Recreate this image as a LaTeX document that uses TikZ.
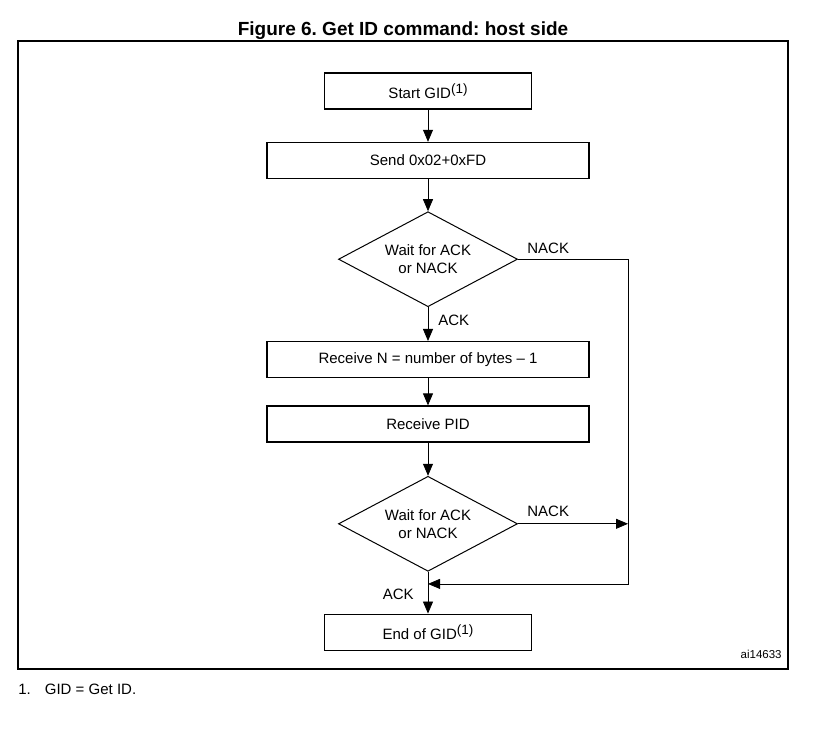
\documentclass[tikz,border=0pt]{standalone}
\usepackage{fontspec}
\setmainfont{Liberation Sans}
\frenchspacing
\usetikzlibrary{arrows.meta,shapes.geometric,positioning,calc}
\newcommand{\fnref}{\raisebox{5pt}{\fontsize{13.5}{14}\selectfont(1)}}
\tikzset{stepbox/.style={
    % The shape:
    rectangle,minimum width=322pt,minimum height=36pt,
    % The rest
    line width=1.4pt,draw=black,
    font=\fontsize{15}{18}\selectfont
  },
  termbox/.style={stepbox,minimum width=207pt},
  decide/.style={
    % The shape:
    diamond,aspect=1.875,minimum width=179pt,minimum height=95pt,inner sep=0pt,
    % The rest
    line width=1pt,draw=black,align=center,
    font=\fontsize{15}{18}\selectfont
  },
  lbl/.style={inner sep=0pt,font=\fontsize{15}{18}\selectfont}
}

\begin{document}
\begin{tikzpicture}[x=1pt,y=1pt,line width=0.8pt,>={Triangle[length=12pt,width=10pt]}]
      \useasboundingbox (0,0) rectangle (817,-736);
      \node (title) [anchor=base, inner sep=0pt] at (403,-35)
        {\fontsize{19}{22}\selectfont\bfseries Figure 6. Get ID command: host side};
      \draw[line width=1.2pt] (18,-41) rectangle (788,-669);

      \matrix (flow) [row sep=32pt, inner sep=0pt, anchor=north] at (428,-72) {
        \node (start)   [termbox] {Start GID\fnref}; \\
        \node (send)    [stepbox] {Send 0x02+0xFD}; \\
        \node (wait1)   [decide]  {Wait for ACK\\or NACK}; \\[2pt]
        \node (recvn)   [stepbox] {Receive N = number of bytes -- 1}; \\[-5pt]
        \node (recvpid) [stepbox] {Receive PID}; \\[1pt]
        \node (wait2)   [decide]  {Wait for ACK\\or NACK}; \\[10pt]
        \node (endgid)  [termbox] {End of GID\fnref}; \\
      };
      \path (start) edge[->] (send);
      \path (send) edge[->] (wait1);
      \path (wait1) edge[->] node[lbl, right=10pt, pos=0.4] {ACK} (recvn);
      \path (recvn) edge[->] (recvpid);
      \path (recvpid) edge[->] (wait2);
      \path (wait2) edge[->] node[lbl, left=14pt, pos=0.55] {ACK} (endgid);

      \coordinate (rail) at (628,0);
      \coordinate (join) at ($(wait2.south)!0.29!(endgid.north)$);
      \draw[->] (wait1.east) -- node[lbl, pos=0, anchor=south west, xshift=9pt, yshift=5pt] {NACK}
        (wait1.east -| rail) |- (join);
      \draw[->] (wait2.east) -- node[lbl, pos=0, anchor=south west, xshift=9pt, yshift=7pt] {NACK}
        (wait2.east -| rail);

      \node (code) [anchor=base east, inner sep=0pt, font=\fontsize{11.5}{13}\selectfont] at (782,-658) {ai14633};
      \node (note) [lbl, anchor=base west] at (18,-694) {1.\hspace{14pt}GID = Get ID.};
    \end{tikzpicture}
\end{document}
